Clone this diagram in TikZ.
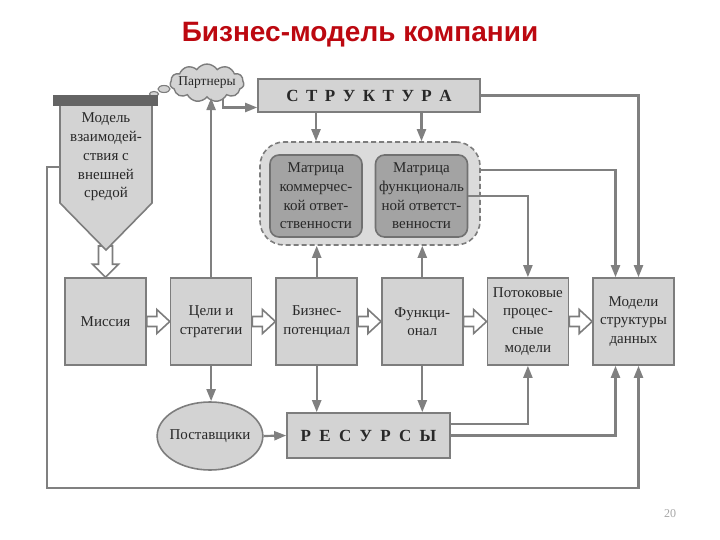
\documentclass[tikz,border=0pt]{standalone}
\usepackage{fontspec}
\setmainfont{Liberation Serif}
\newfontfamily\titlefont{Liberation Sans}
\usepackage{tikz}
\usetikzlibrary{
  positioning,
  calc,
  arrows.meta,
  shapes.geometric,
  shapes.symbols
}
\definecolor{boxgray}{RGB}{211,211,211}
\definecolor{bordgray}{RGB}{125,125,125}
\definecolor{darkbox}{RGB}{163,163,163}
\definecolor{zonegray}{RGB}{219,219,219}
\definecolor{linegray}{RGB}{128,128,128}
\definecolor{bargray}{RGB}{100,100,100}
\definecolor{textgray}{RGB}{40,40,40}
\definecolor{titlered}{RGB}{188,8,16}
\tikzstyle{blok}=[draw=bordgray, fill=boxgray, line width=1.6pt, align=center,
  text=textgray, inner sep=1pt, font=\fontsize{15}{18.6}\selectfont]
\tikzstyle{matr}=[blok, fill=darkbox, draw=bordgray!90!black, rounded corners=9pt,
  minimum width=92pt, minimum height=82pt]
\tikzstyle{svyaz}=[line width=2.2pt, linegray, -{Triangle[length=12pt,width=9pt]}]
\tikzstyle{fatarr}=[draw=bordgray, fill=white, line width=1.6pt, line join=miter]
\tikzstyle{shapka}=[blok, font=\fontsize{17}{20}\selectfont\bfseries]

% толстые полые стрелки (вправо и вниз)
\newcommand{\fatright}[2]{%
  \draw[fatarr] let \p1=(#1), \p2=(#2) in
    (\x1,{\y1+5pt}) -- ({\x2-13pt},{\y1+5pt}) -- ({\x2-13pt},{\y1+12pt})
    -- (\x2,\y1) -- ({\x2-13pt},{\y1-12pt}) -- ({\x2-13pt},{\y1-5pt})
    -- (\x1,{\y1-5pt}) -- cycle;}
\newcommand{\fatdown}[2]{%
  \draw[fatarr] let \p1=(#1), \p2=(#2) in
    ({\x2-7pt},\y1) -- ({\x2-7pt},{\y2+13pt}) -- ({\x2-13pt},{\y2+13pt})
    -- (\x2,\y2) -- ({\x2+13pt},{\y2+13pt}) -- ({\x2+7pt},{\y2+13pt})
    -- ({\x2+7pt},\y1) -- cycle;}

\begin{document}
\begin{tikzpicture}[x=1pt, y=-1pt, node distance=23pt]
        \useasboundingbox (0,0) rectangle (720,540);

        % заголовок
        \node (title) at (360,35) {\titlefont\fontsize{28}{30}\selectfont\bfseries\color{titlered}Бизнес-модель компании};

        % средний ряд блоков
        \node[blok, minimum width=81pt, minimum height=87pt] (mis) at (105.5,321.5) {Миссия};
        \node[blok, minimum width=81pt, minimum height=87pt, right=of mis] (tseli) {Цели и\\стратегии};
        \node[blok, minimum width=81pt, minimum height=87pt, right=of tseli] (biz) {Бизнес-\\потенциал};
        \node[blok, minimum width=81pt, minimum height=87pt, right=of biz] (func) {Функци-\\онал};
        \node[blok, minimum width=81pt, minimum height=87pt, right=of func] (potok) {Потоковые\\процес-\\сные\\модели};
        \node[blok, minimum width=81pt, minimum height=87pt, right=of potok] (modeli) {Модели\\структуры\\данных};

        % структура и матрицы
        \node[shapka, minimum width=222pt, minimum height=33pt] (struk) at (369,95.5)
          {\spaceskip=7.5pt С Т Р У К Т У Р А};
        \node[draw=bordgray, fill=zonegray, line width=1.6pt, dash pattern=on 5pt off 3pt,
          rounded corners=24pt, minimum width=220pt, minimum height=103pt] (zona) at (370,193.5) {};
        \node[matr] (matrA) at (316,196) {Матрица\\коммерчес-\\кой ответ-\\ственности};
        \node[matr] (matrB) at (421.5,196) {Матрица\\функциональ\\ной ответст-\\венности};

        % ресурсы и поставщики
        \node[shapka, minimum width=163pt, minimum height=45pt] (resurs) at (368.5,435.5)
          {\spaceskip=8.3pt Р Е С У Р С Ы};
        \node[ellipse, draw=bordgray, fill=boxgray, line width=1.6pt, text=textgray,
          minimum width=94pt, minimum height=68pt, inner sep=-3pt,
          font=\fontsize{15}{17}\selectfont] (postav) at (210,436) {Поставщики};

        % партнеры
        \node[cloud, cloud puffs=11, cloud puff arc=115, aspect=2.6, draw=bordgray,
          fill=boxgray, line width=1.4pt, inner sep=-3pt, minimum width=70pt,
          minimum height=31pt, text=textgray, font=\fontsize{13.5}{15}\selectfont]
          (partn) at (207,83) {Партнеры};
        \draw[bordgray, fill=boxgray, line width=1.1pt] (164,89) ellipse (6pt and 3.5pt);
        \draw[bordgray, fill=boxgray, line width=1.1pt] (154,94) ellipse (4.5pt and 2.5pt);

        % воронка взаимодействия с внешней средой
        \fatdown{106,246}{mis.north}
        \draw[bordgray, fill=boxgray, line width=1.6pt]
          (60,105) -- (152,105) -- (152,203) -- (106,250) -- (60,203) -- cycle;
        \fill[bargray] (53,95) rectangle (158,106);
        \node[text=textgray, align=center, font=\fontsize{15}{18.7}\selectfont] (sreda) at (106,157)
          {Модель\\взаимодей-\\ствия с\\внешней\\средой};

        % полые стрелки среднего ряда
        \fatright{mis.east}{tseli.west}
        \fatright{tseli.east}{biz.west}
        \fatright{biz.east}{func.west}
        \fatright{func.east}{potok.west}
        \fatright{potok.east}{modeli.west}

        % связи вверх
        \draw[svyaz] (tseli.north) -- (partn.south -| tseli.north);
        \draw[svyaz] (biz.north) -- (zona.south -| biz.north);
        \draw[svyaz] (func.north) -- (zona.south -| func.north);
        \coordinate (pk) at (223,99);
        \draw[svyaz] (pk) |- ($(struk.west)+(0,12)$);
        \draw[svyaz] (struk.south -| matrA) -- (zona.north -| matrA);
        \draw[svyaz] (struk.south -| matrB) -- (zona.north -| matrB);

        % связи к правым блокам
        \draw[svyaz] (struk.east) -| ($(modeli.north)+(5,0)$);
        \draw[svyaz] (zona.east |- 0,170) -| ($(modeli.north)+(-18,0)$);
        \draw[svyaz] (matrB.east) -| (potok.north);

        % связи вниз
        \draw[svyaz] (tseli.south) -- (postav.north -| tseli.south);
        \draw[svyaz] (biz.south) -- (resurs.north -| biz.south);
        \draw[svyaz] (func.south) -- (resurs.north -| func.south);
        \draw[svyaz] (postav.east) -- (resurs.west);
        \draw[svyaz] (resurs.east |- 0,424) -| (potok.south);
        \draw[svyaz] (resurs.east) -| ($(modeli.south)+(-18,0)$);

        % внешний контур
        \draw[svyaz] (60,167) -- (47,167) -- (47,488) -| ($(modeli.south)+(5,0)$);

        % номер слайда
        \node[text=gray!70, font=\fontsize{12}{14}\selectfont] (nomer) at (670,514) {20};
\end{tikzpicture}
\end{document}
